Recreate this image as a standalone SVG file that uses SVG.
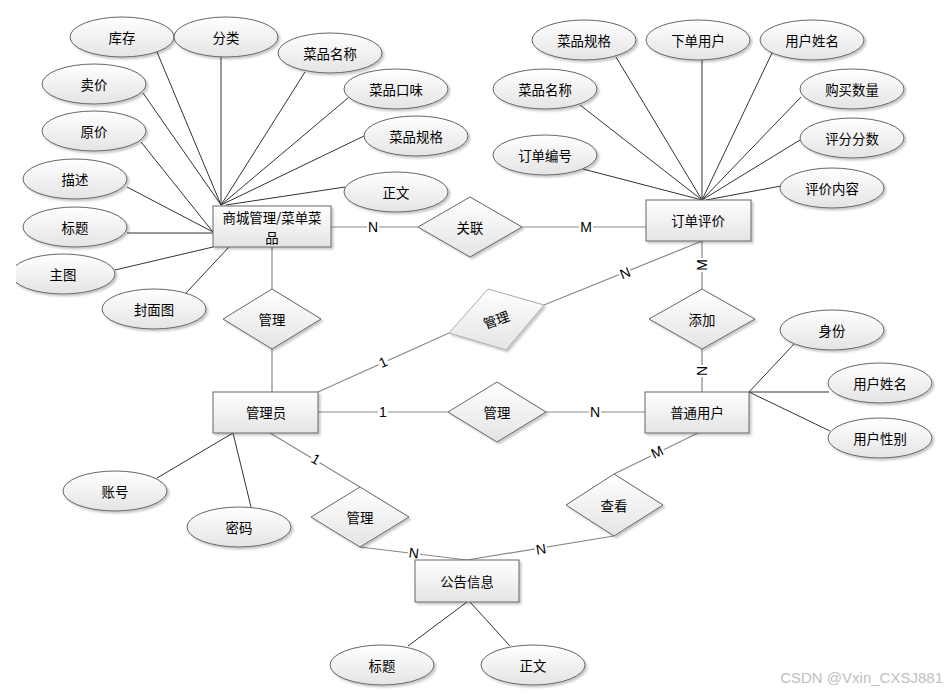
<svg xmlns="http://www.w3.org/2000/svg" width="949" height="693" viewBox="0 0 949 693">
<defs>
<linearGradient id="g" x1="0" y1="0" x2="0" y2="1">
<stop offset="0" stop-color="#ffffff"/>
<stop offset="1" stop-color="#e4e4e4"/>
</linearGradient>
<filter id="sh" x="-20%" y="-20%" width="150%" height="160%">
<feDropShadow dx="2" dy="2" stdDeviation="1" flood-color="#000" flood-opacity="0.22"/>
</filter>
<clipPath id="clipL"><rect x="16" y="0" width="933" height="693"/></clipPath>
</defs>
<style>
.e{fill:url(#g);stroke:#666;stroke-width:1;filter:url(#sh)}
.r{fill:url(#g);stroke:#666;stroke-width:1;filter:url(#sh)}
.d{fill:url(#g);stroke:#666;stroke-width:1;filter:url(#sh)}
.d2{fill:url(#g);stroke:#aaa;stroke-width:1;filter:url(#sh)}
.t{font-family:"Noto Sans CJK SC","Liberation Sans",sans-serif;font-size:13.4px;fill:#000;text-anchor:middle;dominant-baseline:central}
.a{stroke:#333;stroke-width:1;fill:none}
.c{stroke:#888;stroke-width:1.2;fill:none}
.l{font-family:"Liberation Sans",sans-serif;font-size:14px;fill:#000;text-anchor:middle;dominant-baseline:central}
.lb{fill:#fff}
</style>
<rect x="0" y="0" width="949" height="693" fill="#fff"/>
<g id="connectors">
<line class="a" x1="157" y1="52" x2="221" y2="205"/>
<line class="a" x1="221" y1="57" x2="221" y2="205"/>
<line class="a" x1="305" y1="72" x2="221" y2="205"/>
<line class="a" x1="348" y1="98" x2="221" y2="205"/>
<line class="a" x1="364" y1="136" x2="221" y2="205"/>
<line class="a" x1="345" y1="187" x2="226" y2="205"/>
<line class="a" x1="143" y1="93" x2="221" y2="205"/>
<line class="a" x1="141" y1="142" x2="213" y2="232"/>
<line class="a" x1="127" y1="187" x2="213" y2="232"/>
<line class="a" x1="127" y1="233" x2="213" y2="233"/>
<line class="a" x1="115" y1="270" x2="213" y2="247"/>
<line class="a" x1="186" y1="293" x2="229" y2="247"/>
<line class="a" x1="616" y1="57" x2="702" y2="200"/>
<line class="a" x1="702" y1="60" x2="702" y2="200"/>
<line class="a" x1="772" y1="53" x2="702" y2="200"/>
<line class="a" x1="580" y1="105" x2="702" y2="200"/>
<line class="a" x1="801" y1="97" x2="702" y2="200"/>
<line class="a" x1="800" y1="140" x2="702" y2="200"/>
<line class="a" x1="583" y1="169" x2="702" y2="200"/>
<line class="a" x1="781" y1="186" x2="706" y2="200"/>
<line class="a" x1="157" y1="478" x2="233" y2="433"/>
<line class="a" x1="251" y1="507" x2="233" y2="433"/>
<line class="a" x1="795" y1="343" x2="749" y2="392"/>
<line class="a" x1="749" y1="392" x2="829" y2="392"/>
<line class="a" x1="749" y1="392" x2="830" y2="431"/>
<line class="a" x1="408" y1="646" x2="467" y2="602"/>
<line class="a" x1="510" y1="646" x2="470" y2="602"/>
<line class="c" x1="331" y1="227" x2="418" y2="227"/>
<line class="c" x1="522" y1="227" x2="646" y2="227"/>
<line class="c" x1="272" y1="247" x2="272" y2="289"/>
<line class="c" x1="272" y1="349" x2="272" y2="392"/>
<line class="c" x1="318" y1="392" x2="449" y2="333"/>
<line class="c" x1="544" y1="305" x2="702" y2="241"/>
<line class="c" x1="702" y1="241" x2="702" y2="289"/>
<line class="c" x1="702" y1="349" x2="702" y2="392"/>
<line class="c" x1="318" y1="412" x2="448" y2="412"/>
<line class="c" x1="546" y1="412" x2="645" y2="412"/>
<line class="c" x1="270" y1="433" x2="360" y2="487"/>
<line class="c" x1="360" y1="547" x2="467" y2="560"/>
<line class="c" x1="698" y1="433" x2="614" y2="474"/>
<line class="c" x1="614" y1="536" x2="467" y2="560"/>
<rect class="lb" x="367" y="220" width="12" height="14"/>
<text class="l" x="373" y="227">N</text>
<rect class="lb" x="579" y="220" width="14" height="14"/>
<text class="l" x="586" y="227">M</text>
<rect class="lb" x="378" y="405" width="10" height="14"/>
<text class="l" x="383" y="412">1</text>
<rect class="lb" x="589" y="405" width="12" height="14"/>
<text class="l" x="595" y="412">N</text>
<g transform="translate(383,362) rotate(-24)"><rect class="lb" x="-5" y="-7" width="10" height="14"/><text class="l" x="0" y="0">1</text></g>
<g transform="translate(625,273) rotate(-22)"><rect class="lb" x="-6" y="-7" width="12" height="14"/><text class="l" x="0" y="0">N</text></g>
<g transform="translate(702,265) rotate(-90)"><rect class="lb" x="-7" y="-7" width="14" height="14"/><text class="l" x="0" y="0">M</text></g>
<g transform="translate(702,371) rotate(-90)"><rect class="lb" x="-6" y="-7" width="12" height="14"/><text class="l" x="0" y="0">N</text></g>
<g transform="translate(316,459) rotate(31)"><rect class="lb" x="-5" y="-7" width="10" height="14"/><text class="l" x="0" y="0">1</text></g>
<g transform="translate(414,553) rotate(7)"><rect class="lb" x="-6" y="-7" width="12" height="14"/><text class="l" x="0" y="0">N</text></g>
<g transform="translate(541,549) rotate(-9)"><rect class="lb" x="-6" y="-7" width="12" height="14"/><text class="l" x="0" y="0">N</text></g>
<g transform="translate(657,452) rotate(-26)"><rect class="lb" x="-7" y="-7" width="14" height="14"/><text class="l" x="0" y="0">M</text></g>
</g>
<g id="shangcheng">
<rect class="r" x="213" y="206" width="118" height="41"/>
<text class="t" x="272" y="216.5">商城管理/菜单菜<tspan x="272" dy="20">品</tspan></text>
</g>
<g id="dingdan">
<rect class="r" x="646" y="200" width="105" height="41"/>
<text class="t" x="698" y="220">订单评价</text>
</g>
<g id="guanliyuan">
<rect class="r" x="213" y="392" width="105" height="41"/>
<text class="t" x="266" y="412">管理员</text>
</g>
<g id="putongyonghu">
<rect class="r" x="645" y="392" width="104" height="41"/>
<text class="t" x="697" y="412">普通用户</text>
</g>
<g id="gonggao">
<rect class="r" x="415" y="560" width="104" height="42"/>
<text class="t" x="467" y="581">公告信息</text>
</g>
<g id="rel-guanlian">
<polygon class="d" points="470,197 522,227 470,257 418,227"/>
<text class="t" x="470" y="227">关联</text>
</g>
<g id="rel-guanli1">
<polygon class="d" points="272,289 321,319 272,349 223,319"/>
<text class="t" x="272" y="319">管理</text>
</g>
<g id="rel-guanli2">
<polygon class="d2" points="488,289 544,305 506,350 449,333"/>
<text class="t" transform="translate(496,319) rotate(-20)">管理</text>
</g>
<g id="rel-tianjia">
<polygon class="d" points="702,289 755,319 702,349 649,319"/>
<text class="t" x="702" y="319">添加</text>
</g>
<g id="rel-guanli3">
<polygon class="d" points="497,382 546,412 497,442 448,412"/>
<text class="t" x="497" y="412">管理</text>
</g>
<g id="rel-guanli4">
<polygon class="d" points="360,487 409,517 360,547 311,517"/>
<text class="t" x="360" y="517">管理</text>
</g>
<g id="rel-chakan">
<polygon class="d" points="614,474 663,505 614,536 566,505"/>
<text class="t" x="614" y="505">查看</text>
</g>
<g id="at-kucun"><ellipse class="e" cx="122" cy="37" rx="52" ry="20"/><text class="t" x="122" y="37">库存</text></g>
<g id="at-fenlei"><ellipse class="e" cx="226" cy="37" rx="52" ry="20"/><text class="t" x="226" y="37">分类</text></g>
<g id="at-caipinmingcheng"><ellipse class="e" cx="330" cy="53" rx="52" ry="20"/><text class="t" x="330" y="53">菜品名称</text></g>
<g id="at-caipinkouwei"><ellipse class="e" cx="396" cy="89" rx="52" ry="20"/><text class="t" x="396" y="89">菜品口味</text></g>
<g id="at-caipinguige"><ellipse class="e" cx="416" cy="136" rx="52" ry="20"/><text class="t" x="416" y="136">菜品规格</text></g>
<g id="at-zhengwen"><ellipse class="e" cx="396" cy="192" rx="52" ry="20"/><text class="t" x="396" y="192">正文</text></g>
<g id="at-maijia"><ellipse class="e" cx="94" cy="84" rx="52" ry="20"/><text class="t" x="94" y="84">卖价</text></g>
<g id="at-yuanjia"><ellipse class="e" cx="94" cy="131" rx="52" ry="20"/><text class="t" x="94" y="131">原价</text></g>
<g id="at-miaoshu"><ellipse class="e" cx="75" cy="179" rx="52" ry="20"/><text class="t" x="75" y="179">描述</text></g>
<g id="at-biaoti"><ellipse class="e" cx="75" cy="227" rx="52" ry="20"/><text class="t" x="75" y="227">标题</text></g>
<g id="at-zhutu" clip-path="url(#clipL)"><ellipse class="e" cx="63" cy="274" rx="52" ry="20"/><text class="t" x="63" y="274">主图</text></g>
<g id="at-fengmiantu"><ellipse class="e" cx="154" cy="309" rx="52" ry="20"/><text class="t" x="154" y="309">封面图</text></g>
<g id="at-d-guige"><ellipse class="e" cx="584" cy="40" rx="52" ry="20"/><text class="t" x="584" y="40">菜品规格</text></g>
<g id="at-d-xiadan"><ellipse class="e" cx="698" cy="40" rx="52" ry="20"/><text class="t" x="698" y="40">下单用户</text></g>
<g id="at-d-xingming"><ellipse class="e" cx="812" cy="40" rx="52" ry="20"/><text class="t" x="812" y="40">用户姓名</text></g>
<g id="at-d-mingcheng"><ellipse class="e" cx="545" cy="89" rx="52" ry="20"/><text class="t" x="545" y="89">菜品名称</text></g>
<g id="at-d-shuliang"><ellipse class="e" cx="852" cy="89" rx="52" ry="20"/><text class="t" x="852" y="89">购买数量</text></g>
<g id="at-d-fenshu"><ellipse class="e" cx="852" cy="138" rx="52" ry="20"/><text class="t" x="852" y="138">评分分数</text></g>
<g id="at-d-bianhao"><ellipse class="e" cx="545" cy="155" rx="52" ry="20"/><text class="t" x="545" y="155">订单编号</text></g>
<g id="at-d-neirong"><ellipse class="e" cx="832" cy="188" rx="52" ry="20"/><text class="t" x="832" y="188">评价内容</text></g>
<g id="at-u-shenfen"><ellipse class="e" cx="832" cy="330" rx="52" ry="20"/><text class="t" x="832" y="330">身份</text></g>
<g id="at-u-xingming"><ellipse class="e" cx="880" cy="383" rx="52" ry="20"/><text class="t" x="880" y="383">用户姓名</text></g>
<g id="at-u-xingbie"><ellipse class="e" cx="880" cy="438" rx="52" ry="20"/><text class="t" x="880" y="438">用户性别</text></g>
<g id="at-a-zhanghao"><ellipse class="e" cx="115" cy="491" rx="52" ry="20"/><text class="t" x="115" y="491">账号</text></g>
<g id="at-a-mima"><ellipse class="e" cx="239" cy="527" rx="52" ry="20"/><text class="t" x="239" y="527">密码</text></g>
<g id="at-g-biaoti"><ellipse class="e" cx="382" cy="665" rx="52" ry="20"/><text class="t" x="382" y="665">标题</text></g>
<g id="at-g-zhengwen"><ellipse class="e" cx="533" cy="665" rx="52" ry="20"/><text class="t" x="533" y="665">正文</text></g>
<text x="943" y="683" font-family="Liberation Sans, sans-serif" font-size="15" fill="#c0c0c0" text-anchor="end">CSDN @Vxin_CXSJ881</text>
</svg>
